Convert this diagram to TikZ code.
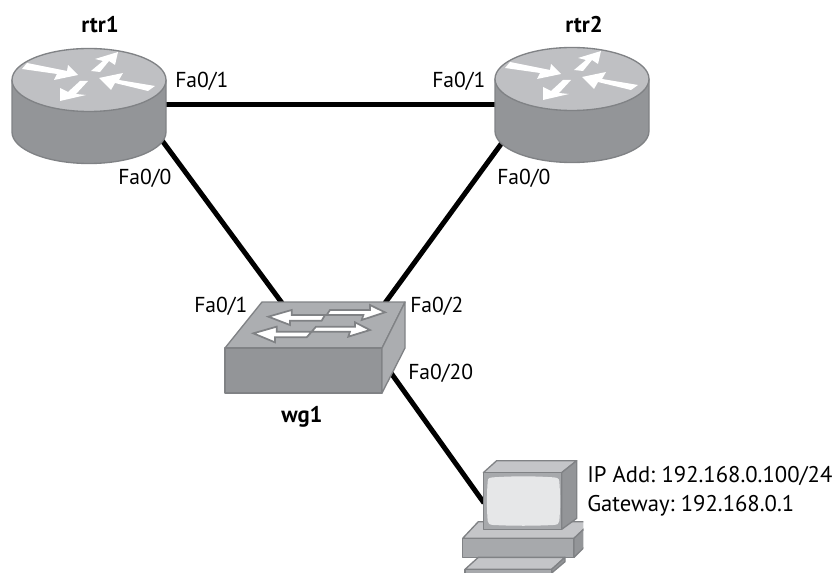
\documentclass[tikz,border=0pt]{standalone}
\usepackage{fontspec}
\setmainfont{PT Sans}
\definecolor{rtop}{HTML}{BFC0C3}
\definecolor{rside}{HTML}{939598}
\definecolor{edgeg}{HTML}{808285}
\definecolor{stop}{HTML}{ACAEB1}
\definecolor{sright}{HTML}{ABADB0}
\definecolor{scr}{HTML}{E6E7E8}
\definecolor{pclight}{HTML}{C4C5C8}
\definecolor{pcmid}{HTML}{A7A9AC}
\tikzset{
  link/.style={line width=3.75pt,black},
  lbl/.style={inner sep=0pt,anchor=base west,font=\fontsize{16.2pt}{18pt}\selectfont},
  iplbl/.style={inner sep=0pt,anchor=base west,font=\fontsize{17pt}{19pt}\selectfont},
  title/.style={inner sep=0pt,anchor=base,font=\fontsize{17pt}{19pt}\selectfont\bfseries},
  face/.style={draw=edgeg,line width=1pt,line join=round},
  rarrow/.style={fill=white,draw=none},
  sarrow/.style={fill=white,draw=edgeg,line width=1.3pt,line join=miter},
}
\newcommand{\routerat}[2]{%
  \begin{scope}[shift={(#1,#2)}]
    \path[face,fill=rside] (-77,0) -- (-77,52) arc[start angle=180,end angle=0,x radius=77,y radius=31.5] -- (77,0) -- cycle;
    \path[face,fill=rtop] (0,0) ellipse[x radius=77,y radius=31.5];
    \fill[rarrow] (-67,-11) -- (-62,-17) -- (-22,-9) -- (-21,-15) -- (-11,-5) -- (-35,0) -- (-32,-6) -- cycle;
    \fill[rarrow] (2,-9) -- (14,-19) -- (6,-21) -- (29,-28) -- (26,-15) -- (20,-19) -- (11,-8) -- cycle;
    \fill[rarrow] (10,-2) -- (34,-7) -- (30,0) -- (66,6) -- (59,11) -- (26,3) -- (22,10) -- cycle;
    \fill[rarrow] (-29,21) -- (-29,8) -- (-21,12) -- (-9,1) -- (-1,1) -- (-13,14) -- (-3,15) -- cycle;
  \end{scope}}
\begin{document}
\begin{tikzpicture}[x=0.75pt,y=-0.75pt]
\useasboundingbox (0,0) rectangle (834,573);
% device anchors
\coordinate (r1e) at (166,104.5);
\coordinate (r2w) at (495,104.5);
\coordinate (r1s) at (158,135);
\coordinate (r2s) at (504,140);
\coordinate (swl) at (282,303);
\coordinate (swr) at (385,303);
\coordinate (swb) at (391,373);
\coordinate (pcw) at (484,503);
% connectors
\draw[link] (r1e) -- (r2w);
\draw[link] (r1s) -- (swl);
\draw[link] (r2s) -- (swr);
\draw[link] (swb) -- (pcw);
% routers
\routerat{89}{80}
\routerat{572}{79}
% switch
\path[face,fill=stop] (262,302) -- (405,302) -- (382,348) -- (225,348) -- cycle;
\path[face,fill=rside] (225,348) -- (382,348) -- (382,393) -- (225,393) -- cycle;
\path[face,fill=sright] (405,302) -- (405,348) -- (382,393) -- (382,348) -- cycle;
\begin{scope}[shift={(210,280)},x=0.25pt,y=-0.25pt]
  \path[sarrow] (175,110) -- (245,90) -- (245,105) -- (345,105) -- (335,122) -- (240,122) -- (240,135) -- cycle;
  \path[sarrow] (350,105) -- (360,90) -- (480,90) -- (480,75) -- (525,97) -- (455,120) -- (460,105) -- cycle;
  \path[sarrow] (130,160) -- (200,140) -- (200,155) -- (305,155) -- (290,172) -- (195,172) -- (195,187) -- cycle;
  \path[sarrow] (305,155) -- (318,140) -- (435,140) -- (435,127) -- (480,150) -- (415,170) -- (420,155) -- cycle;
\end{scope}
% pc
\begin{scope}[shift={(450,440)},x=0.25pt,y=-0.25pt]
  \clip (0,0) rectangle (400,399);
  \path[face,fill=pclight] (38,295) -- (85,245) -- (425,245) -- (372,295) -- cycle;
  \path[face,fill=pcmid] (38,295) -- (372,295) -- (372,352) -- (38,352) -- cycle;
  \path[face,fill=rside] (372,295) -- (425,245) -- (425,300) -- (372,352) -- cycle;
  \path[face,fill=pclight] (45,388) -- (85,352) -- (345,352) -- (305,388) -- cycle;
  \path[face,fill=pcmid] (45,388) -- (305,388) -- (305,420) -- (45,420) -- cycle;
  \path[face,fill=rside] (305,388) -- (345,352) -- (345,365) -- (305,399) -- cycle;
  \path[face,fill=pclight] (100,98) -- (140,62) -- (380,62) -- (335,98) -- cycle;
  \path[face,fill=pcmid] (100,98) -- (335,98) -- (335,268) -- (100,268) -- cycle;
  \path[face,fill=rside] (335,98) -- (380,62) -- (380,235) -- (335,268) -- cycle;
  \fill[scr] (113,125) .. controls (113,113) and (120,113) .. (130,112) .. controls (190,108) and (250,108) .. (310,112) .. controls (322,113) and (328,115) .. (328,125) .. controls (331,165) and (331,205) .. (328,243) .. controls (328,252) and (322,254) .. (310,255) .. controls (250,258) and (190,258) .. (130,255) .. controls (120,254) and (113,252) .. (113,243) .. controls (110,205) and (110,165) .. (113,125) -- cycle;
\end{scope}
% labels
\node[title] (t1) at (100,33) {rtr1};
\node[title] (t2) at (584,33) {rtr2};
\node[title] (t3) at (302,422) {wg1};
\node[lbl] (a) at (175,88) {Fa0/1};
\node[lbl] (b) at (432,88) {Fa0/1};
\node[lbl] (c) at (118,185) {Fa0/0};
\node[lbl] (d) at (497,185) {Fa0/0};
\node[lbl] (e) at (194,312) {Fa0/1};
\node[lbl] (f) at (410,312) {Fa0/2};
\node[lbl] (g) at (408,379) {Fa0/20};
\node[iplbl] (h) at (587,482) {IP Add:\hspace{0.28em}192.168.0.100/24};
\node[iplbl] (i) at (587,511) {Gateway:\hspace{0.28em}192.168.0.1};
\end{tikzpicture}
\end{document}
